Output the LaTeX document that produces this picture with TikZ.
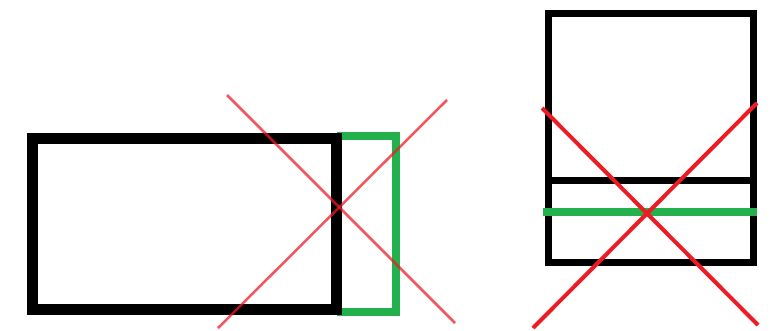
\documentclass[tikz,border=0pt]{standalone}
\usepackage{tikz}
\definecolor{paintgreen}{RGB}{34,177,76}
\definecolor{paintred}{RGB}{237,28,36}

\begin{document}
\begin{tikzpicture}[
    x=1pt, y=-1pt,
    frame/.style={draw=black, line width=11pt},
    thinframe/.style={draw=black, line width=7pt},
    greenline/.style={draw=paintgreen, line width=8pt},
    cross/.style={draw=paintred, line width=2.5pt, opacity=0.75},
    boldcross/.style={draw=paintred, line width=4pt}
]
\useasboundingbox (0,0) rectangle (774,330);

% left: wide box with green extension
\draw[greenline] (337,136) -- (396,136) -- (396,311.5) -- (337,311.5);
\draw[frame] (32.5,138) rectangle (336.5,309);
\coordinate (la) at (227,95);
\coordinate (lb) at (455,323);
\coordinate (lc) at (447,100);
\coordinate (ld) at (218,328);
\draw[cross] (la) -- (lb);
\draw[cross] (lc) -- (ld);

% right: tall box with split line
\draw[thinframe] (548,13) rectangle (753,262);
\draw[thinframe] (548,180) -- (753,180);
\draw[greenline] (543,212) -- (757,212);
\coordinate (ra) at (542,108);
\coordinate (rb) at (758,325);
\coordinate (rc) at (757,103);
\coordinate (rd) at (533,328);
\draw[boldcross] (ra) -- (rb);
\draw[boldcross] (rc) -- (rd);

\end{tikzpicture}
\end{document}
